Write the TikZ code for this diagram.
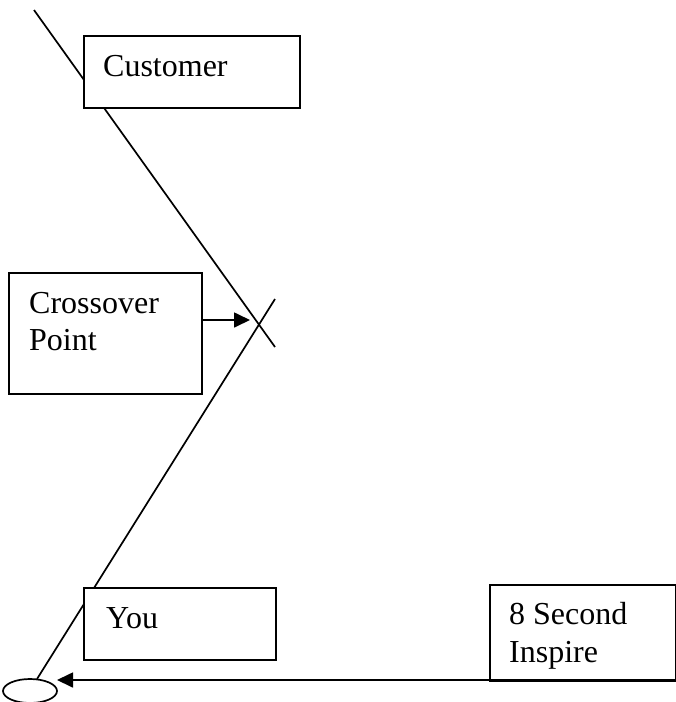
\documentclass[tikz,border=0pt]{standalone}
\usepackage{fontspec}
\setmainfont{Liberation Serif}
\usetikzlibrary{arrows.meta,shapes.geometric}
\begin{document}
\begin{tikzpicture}[x=1pt,y=-1pt,
  ln/.style={line width=1.7pt,black},
  boxx/.style={draw,line width=1.9pt,fill=white,anchor=north west,inner sep=0pt},
  lbl/.style={anchor=base west,inner sep=0pt,font=\fontsize{32}{37}\selectfont},
  tip/.style={-{Triangle[length=16pt,width=15pt]}}]
\useasboundingbox (0,0) rectangle (676,702);
\fill[white] (0,0) rectangle (676,702);
% lines
\coordinate (l1a) at (34,10);
\coordinate (l1b) at (275,347);
\coordinate (l2a) at (37,679);
\coordinate (l2b) at (275,299);
\coordinate (crossTip) at (250,320);
\coordinate (rightEnd) at (675,680);
\coordinate (ovalTip) at (57,680);
\draw[ln] (l1a) -- (l1b);
\draw[ln] (l2a) -- (l2b);
\node[draw,ellipse,line width=1.7pt,minimum width=54pt,minimum height=24pt,inner sep=0pt] (oval) at (30,691) {};
% boxes
\node[boxx,minimum width=216pt,minimum height=72pt] (cust) at (83,35) {};
\node[lbl] (custT) at (103,76) {Customer};
\node[boxx,minimum width=193pt,minimum height=121pt] (cross) at (8,272) {};
\node[lbl] (crossT1) at (29,313) {Crossover};
\node[lbl] (crossT2) at (29,350) {Point};
\node[boxx,minimum width=192pt,minimum height=72pt] (you) at (83,587) {};
\node[lbl] (youT) at (106,628) {You};
\node[boxx,minimum width=186pt,minimum height=96pt] (insp) at (489,584) {};
\node[lbl] (inspT1) at (509,624) {8 Second};
\node[lbl] (inspT2) at (509,662) {Inspire};
% arrows
\draw[ln,tip] (cross.east |- crossTip) -- (crossTip);
\draw[ln,tip] (rightEnd) -- (ovalTip);
\end{tikzpicture}
\end{document}
